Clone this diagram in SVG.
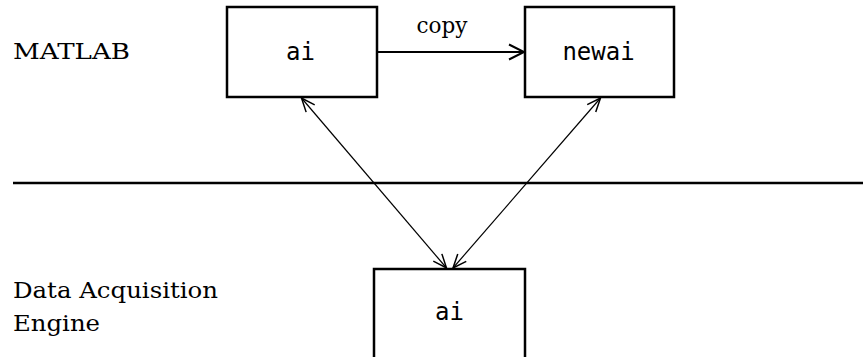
<svg xmlns="http://www.w3.org/2000/svg" width="863" height="357" viewBox="0 0 863 357">
<style>
.box{fill:#fff;stroke:#000;stroke-width:2.5}
.lbl{font-family:"DejaVu Serif","Liberation Serif",serif;font-size:22.5px;fill:#000}
.mono{font-family:"DejaVu Sans Mono","Liberation Mono",monospace;font-size:24px;fill:#000;text-anchor:middle}
.conn{fill:none;stroke:#000}
</style>
<defs>
<marker id="hb" markerUnits="userSpaceOnUse" markerWidth="20" markerHeight="20" viewBox="-14 -8 16 16" refX="0" refY="0" orient="auto-start-reverse">
<path d="M-12,-6 L0,0 L-12,6" fill="none" stroke="#000" stroke-width="1.6"/>
</marker>
<marker id="hs" markerUnits="userSpaceOnUse" markerWidth="20" markerHeight="20" viewBox="-14 -8 16 16" refX="0" refY="0" orient="auto-start-reverse">
<path d="M-11,-4.5 L0,0 L-11,4.5" fill="none" stroke="#000" stroke-width="1.2"/>
</marker>
</defs>
<text class="lbl" x="13" y="59" textLength="117" lengthAdjust="spacingAndGlyphs">MATLAB</text>
<text class="lbl" x="13" y="298" textLength="205" lengthAdjust="spacingAndGlyphs">Data Acquisition</text>
<text class="lbl" x="13" y="331" textLength="87" lengthAdjust="spacingAndGlyphs">Engine</text>
<line x1="13" y1="183" x2="863" y2="183" stroke="#000" stroke-width="2.5"/>
<g id="node-ai">
<rect class="box" x="227" y="7" width="150" height="90"/>
<text class="mono" x="300.5" y="60">ai</text>
</g>
<g id="node-newai">
<rect class="box" x="525" y="7" width="149" height="90"/>
<text class="mono" x="598.5" y="60">newai</text>
</g>
<g id="node-engine-ai">
<rect class="box" x="374" y="269" width="151" height="100"/>
<text class="mono" x="449.5" y="320">ai</text>
</g>
<g id="connectors">
<line class="conn" x1="377" y1="52" x2="524" y2="52" stroke-width="2" marker-end="url(#hb)"/>
<text class="lbl" x="416.5" y="33" textLength="51" lengthAdjust="spacingAndGlyphs">copy</text>
<line class="conn" x1="301.5" y1="98" x2="446.5" y2="268" stroke-width="1.2" marker-start="url(#hs)" marker-end="url(#hs)"/>
<line class="conn" x1="600.5" y1="98" x2="453" y2="268" stroke-width="1.2" marker-start="url(#hs)" marker-end="url(#hs)"/>
</g>
</svg>
